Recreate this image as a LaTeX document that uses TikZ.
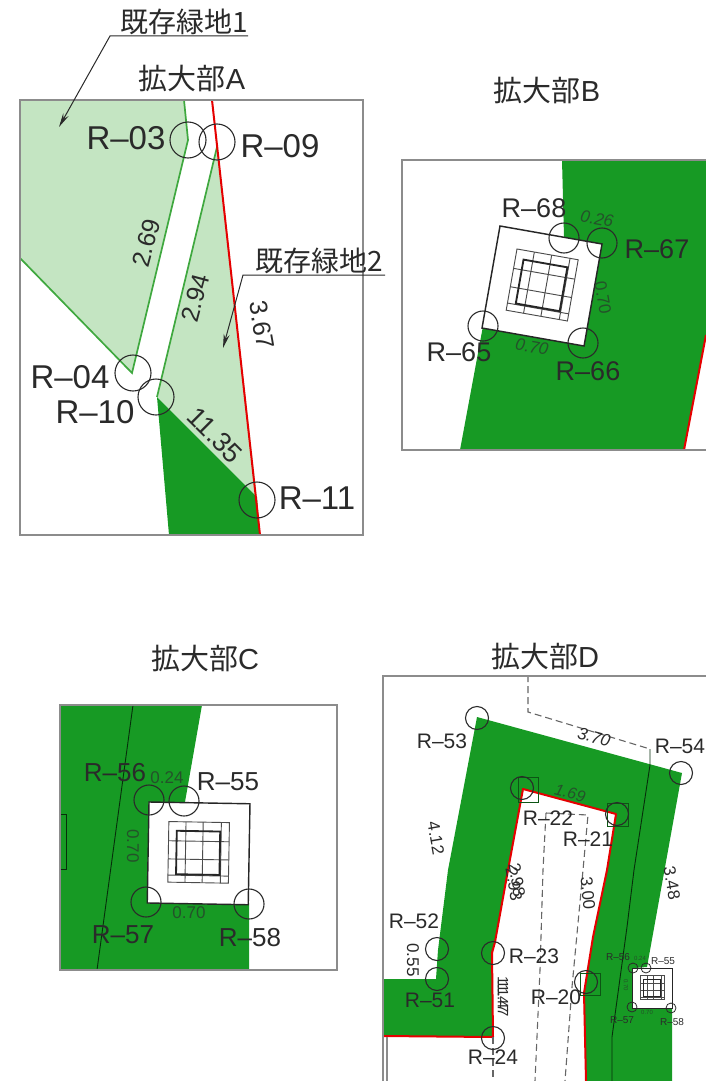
\documentclass[tikz,border=0pt]{standalone}
\usepackage{fontspec}
\setmainfont{Liberation Sans}
\newfontfamily\cjkfont{Noto Sans CJK JP}
\usepackage{xcolor}
\usetikzlibrary{arrows.meta,backgrounds}

\definecolor{lightplot}{HTML}{C4E5C2}
\definecolor{darkplot}{HTML}{179A24}
\definecolor{plotedge}{HTML}{3FA83F}
\definecolor{frameline}{HTML}{8C8C8C}
\definecolor{inktext}{HTML}{2A2A2A}
\definecolor{dimink}{HTML}{24522A}

\tikzset{
    panel/.style={draw=frameline, line width=1.2pt},
    redline/.style={draw=red!90!black, line width=2pt, line join=round},
    plotline/.style={draw=plotedge, line width=1.7pt},
    pt/.style={draw=inktext, line width=1.1pt},
    dashline/.style={draw=black!60, line width=1.1pt, dash pattern=on 7pt off 4pt},
    leader/.style={draw=inktext, line width=1pt, -{Stealth[length=14pt,width=6pt]}},
    lbl/.style={inner sep=0pt, text=inktext, font=\fontsize{#1}{#1}\selectfont},
    dim/.style={inner sep=0pt, text=dimink, font=\fontsize{#1}{#1}\selectfont},
    title/.style={inner sep=0pt, text=inktext, font=\cjkfont\fontsize{29}{29}\selectfont},
    note/.style={inner sep=0pt, text=inktext, font=\cjkfont\fontsize{#1}{#1}\selectfont},
}

% #1 x, #2 y, #3 angle, #4 scale
\newcommand{\footing}[4]{
    \begin{scope}[shift={(#1,#2)},rotate=#3,scale=#4]
        \draw[fill=white, draw=black!85, line width=#4*1.4pt, line join=miter] (0,0) rectangle (100,100);
        \draw[draw=black!70, line width=#4*0.9pt] (20,19) rectangle (80,79);
        \foreach \u in {37,54,72} \draw[draw=black!70, line width=#4*0.9pt] (\u,19) -- (\u,79);
        \foreach \v in {38,56,72} \draw[draw=black!70, line width=#4*0.9pt] (20,\v) -- (80,\v);
        \draw[draw=black!85, line width=#4*1.8pt] (28,28) rectangle (71,71);
    \end{scope}
}

\begin{document}
\begin{tikzpicture}[x=1pt,y=-1pt]
    \useasboundingbox (0,0) rectangle (706,1081);

    % A
    \node[title] (titleA) at (192,79) {拡大部{\rmfamily A}};
    \fill[lightplot] (20,100) -- (184,100) -- (188,140) -- (132,373) -- (20,258) -- cycle;
    \fill[lightplot] (217,147) -- (157,397) -- (257,497) -- cycle;
    \fill[darkplot] (157,397) -- (257,497) -- (260,535) -- (169,535) -- cycle;
    \draw[plotline] (184,100) -- (188,140) -- (132,373) -- (20,258);
    \draw[plotline] (217,147) -- (157,397);
    \draw[redline] (212,100) -- (260,535);
    \draw[panel] (20,100) rectangle (363,535);

    \coordinate (r03) at (188,140);
    \coordinate (r09) at (217,142);
    \coordinate (r04) at (133,373);
    \coordinate (r10) at (156,397);
    \coordinate (r11) at (257,500);
    \foreach \c in {r03,r09,r04,r10,r11}
        \draw[pt] (\c) circle (18);
    \node[lbl=33] (lr03) at (126,138) {R--03};
    \node[lbl=33] (lr09) at (280,146) {R--09};
    \node[lbl=33] (lr04) at (70,377) {R--04};
    \node[lbl=33] (lr10) at (95,412) {R--10};
    \node[lbl=33] (lr11) at (317,498) {R--11};
    \node[lbl=25, rotate=75] (d269) at (146,243) {2.69};
    \node[lbl=25, rotate=75] (d294) at (195,298) {2.94};
    \node[lbl=25, rotate=-80] (d367) at (262,325) {3.67};
    \node[lbl=27, rotate=-45] (d1135) at (215,435) {11.35};

    \node[note=28, anchor=south] (green1) at (184,35) {既存緑地1};
    \coordinate (g1a) at (248,36);
    \coordinate (g1b) at (110,36);
    \coordinate (g1c) at (59,127);
    \draw[leader] (g1a) -- (g1b) -- (g1c);
    \node[note=28, anchor=south] (green2) at (319,274) {既存緑地2};
    \coordinate (g2a) at (385,275);
    \coordinate (g2b) at (243,275);
    \coordinate (g2c) at (223,348);
    \draw[leader] (g2a) -- (g2b) -- (g2c);

    % B
    \node[title] (titleB) at (547,91) {拡大部{\rmfamily B}};
    \fill[darkplot] (562,160) -- (706,160) -- (706,335) -- (684,450) -- (460,450) -- (483,326)
        -- (583,343) -- (602,244) -- (564,237) -- cycle;
    \draw[redline] (706,335) -- (684,450);
    \footing{500}{226}{-10}{1.036}
    \draw[panel] (706,160) -- (402,160) -- (402,450) -- (706,450);

    \coordinate (r68) at (564,238);
    \coordinate (r67) at (602,243);
    \coordinate (r65) at (483,326);
    \coordinate (r66) at (583,343);
    \foreach \c in {r68,r67,r65,r66}
        \draw[pt] (\c) circle (15);
    \node[lbl=27] (lr68) at (534,208) {R--68};
    \node[lbl=27] (lr67) at (657,249) {R--67};
    \node[lbl=27] (lr65) at (459,352) {R--65};
    \node[lbl=27] (lr66) at (588,371) {R--66};
    \node[dim=17, rotate=-10] (d026) at (597,219) {\itshape 0.26};
    \node[dim=17, rotate=-80] (d070a) at (603,298) {0.70};
    \node[dim=17, rotate=-10] (d070b) at (532,347) {\itshape 0.70};

    % C
    \node[title] (titleC) at (205,659) {拡大部{\rmfamily C}};
    \fill[darkplot] (60,705) -- (202,705) -- (185,802) -- (149,802) -- (147,901) -- (249,903)
        -- (249,970) -- (60,970) -- cycle;
    \draw[black!70!darkplot, line width=0.9pt] (133,705) -- (97,970);
    \draw[black!70!darkplot, line width=0.9pt] (60,814) -- (66,814) -- (66,869) -- (60,869);
    \footing{149}{802}{-1}{1.01}
    \draw[panel] (60,705) rectangle (337,970);

    \coordinate (r56) at (149,800);
    \coordinate (r55) at (184,801);
    \coordinate (r57) at (146,902);
    \coordinate (r58) at (249,904);
    \foreach \c in {r56,r55,r57,r58}
        \draw[pt] (\c) circle (15);
    \node[lbl=26] (lr56) at (115,773) {R--56};
    \node[lbl=26] (lr55) at (228,782) {R--55};
    \node[lbl=26] (lr57) at (123,935) {R--57};
    \node[lbl=26] (lr58) at (250,938) {R--58};
    \node[dim=17] (d024) at (167,778) {0.24};
    \node[dim=17, rotate=-90] (d070c) at (133,846) {0.70};
    \node[dim=17] (d070d) at (189,913) {0.70};

    % D
    \node[title] (titleD) at (545,657) {拡大部{\rmfamily D}};
    \fill[darkplot] (477,717) -- (682,773) -- (647,967) -- (634,968) -- (633,1008) -- (672,1008)
        -- (672,1081) -- (586,1081) -- (584,993) -- (593,937) -- (607,870) -- (616,814)
        -- (523,789) -- (508,870) -- (495,942) -- (492,953) -- (493,1037) -- (383,1036)
        -- (383,979) -- (436,979) -- (438,950) -- (448,870) -- cycle;
    \draw[redline] (383,1036) -- (493,1037) -- (492,953) -- (495,942) -- (508,870) -- (523,789)
        -- (616,814) -- (607,870) -- (593,937) -- (584,993) -- (586,1081);
    \draw[black!70!darkplot, line width=0.9pt] (650,749) -- (650,765) -- (634,870) -- (627,927) -- (612,1037) -- (612,1081);
    \draw[dashline] (528,675) -- (528,712) -- (650,749);
    \draw[dashline] (546,813) -- (543,870) -- (540,970) -- (535,1081);
    \draw[dashline] (546,813) -- (588,815) -- (583,870) -- (572,987) -- (565,1081);
    \draw[dashline] (493,1037) -- (493,1081);
    \draw[black!45!darkplot, line width=0.7pt] (518,777) rectangle (538,802);
    \draw[black!45!darkplot, line width=0.7pt] (607,803) rectangle (628,826);
    \draw[black!45!darkplot, line width=0.7pt] (580,973) rectangle (600,995);
    \footing{632}{968}{0}{0.4}
    \draw[panel] (706,676) -- (383,676) -- (383,1081);
    \draw[panel] (387,1037) -- (387,1081);

    \coordinate (r53) at (477,718);
    \coordinate (r54) at (681,773);
    \coordinate (r22) at (522,788);
    \coordinate (r21) at (617,814);
    \coordinate (r52) at (437,949);
    \coordinate (r51) at (437,979);
    \coordinate (r23) at (493,953);
    \coordinate (r20) at (586,982);
    \coordinate (r24) at (493,1038);
    \foreach \c in {r53,r54,r22,r21,r52,r51,r23,r20,r24}
        \draw[pt] (\c) circle (11.5);
    \foreach \c/\d in {633/968,646/968,632/1007,671/1008}
        \draw[pt, line width=0.8pt] (\c,\d) circle (5);
    \node[lbl=21] (lr53) at (442,741) {R--53};
    \node[lbl=21] (lr54) at (680,746) {R--54};
    \node[lbl=21] (lr22) at (548,818) {R--22};
    \node[lbl=21] (lr21) at (588,839) {R--21};
    \node[lbl=21] (lr52) at (414,921) {R--52};
    \node[lbl=21] (lr51) at (430,1000) {R--51};
    \node[lbl=21] (lr23) at (534,956) {R--23};
    \node[lbl=21] (lr20) at (556,997) {R--20};
    \node[lbl=21] (lr24) at (493,1057) {R--24};
    \node[lbl=17, rotate=-15] (d370) at (594,737) {\itshape 3.70};
    \node[dim=16, rotate=-15] (d169) at (570,793) {\itshape 1.69};
    \node[lbl=17, rotate=-80] (d412) at (436,838) {4.12};
    \node[lbl=17, rotate=-80] (d348) at (672,883) {3.48};
    \node[lbl=17, rotate=-85] (d300) at (588,893) {3.00};
    \node[lbl=17, rotate=-80] (d298) at (517,880) {2.98};
    \node[lbl=17, rotate=-80] (d293) at (514,884) {2.93};
    \node[lbl=15, rotate=-90] (d1147a) at (503,995) {11.47};
    \node[lbl=15, rotate=-90] (d1147b) at (503,999) {11.47};
    \node[lbl=17, rotate=-90] (d055) at (413,960) {0.55};
    \node[lbl=10] (ts56) at (618,957) {R--56};
    \node[lbl=10] (ts55) at (663,961) {R--55};
    \node[lbl=10] (ts57) at (622,1020) {R--57};
    \node[lbl=10] (ts58) at (672,1022) {R--58};
    \node[dim=6] (ts024) at (640,958) {0.24};
    \node[dim=6] (ts070a) at (647,1012) {0.70};
    \node[dim=6, rotate=-90] (ts070b) at (626,985) {0.70};
\end{tikzpicture}
\end{document}
